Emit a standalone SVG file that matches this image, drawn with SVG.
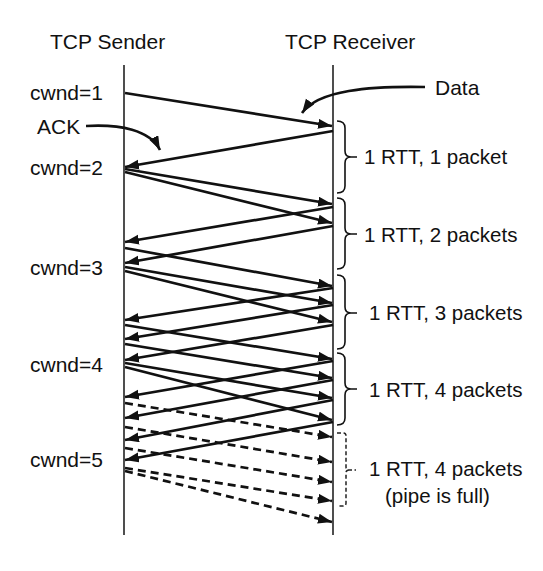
<svg xmlns="http://www.w3.org/2000/svg" width="543" height="571" viewBox="0 0 543 571">
<style>
text{font-family:"Liberation Sans",Arial,sans-serif;font-size:20.5px;fill:#111}
.lbl{font-size:21px}
.life{stroke:#222;stroke-width:1.6;fill:none}
.a{stroke:#111;stroke-width:2.7;fill:none;marker-end:url(#ah)}
.d{stroke:#111;stroke-width:2.7;fill:none;stroke-dasharray:8 5;marker-end:url(#ah)}
.br{stroke:#111;stroke-width:1.6;fill:none}
.brd{stroke:#222;stroke-width:1.5;fill:none;stroke-dasharray:4 2.5}
</style>
<defs>
<marker id="ah" markerUnits="userSpaceOnUse" markerWidth="15" markerHeight="11" refX="14" refY="5" orient="auto">
<path d="M0,0 L14,5 L0,10 z" fill="#111"/>
</marker>
</defs>
<rect width="543" height="571" fill="#fff"/>
<g id="sender">
<line class="life" x1="124" y1="65" x2="124" y2="535"/>
<text class="lbl" x="50" y="49">TCP Sender</text>
</g>
<g id="receiver">
<line class="life" x1="333" y1="65" x2="333" y2="535"/>
<text class="lbl" x="285" y="49">TCP Receiver</text>
</g>
<g id="labels">
<text class="lbl" x="30" y="100">cwnd=1</text>
<text class="lbl" x="37" y="134">ACK</text>
<text class="lbl" x="30" y="175">cwnd=2</text>
<text class="lbl" x="30" y="275">cwnd=3</text>
<text class="lbl" x="30" y="372">cwnd=4</text>
<text class="lbl" x="30" y="467">cwnd=5</text>
<text class="lbl" x="435" y="95">Data</text>
</g>
<g id="connectors">
<path class="a" d="M425,87 C370,86 318,90 302,113"/>
<path class="a" d="M86,126 C120,124 150,130 160,150"/>
<!-- data -->
<line class="a" x1="125" y1="93" x2="332" y2="126"/>
<line class="a" x1="125" y1="169" x2="332" y2="204"/>
<line class="a" x1="125" y1="172" x2="332" y2="223"/>
<line class="a" x1="125" y1="248" x2="332" y2="286"/>
<line class="a" x1="125" y1="267" x2="332" y2="303"/>
<line class="a" x1="125" y1="271" x2="332" y2="322"/>
<line class="a" x1="125" y1="325" x2="332" y2="359"/>
<line class="a" x1="125" y1="344" x2="332" y2="378"/>
<line class="a" x1="125" y1="363" x2="332" y2="398"/>
<line class="a" x1="125" y1="367" x2="332" y2="420"/>
<!-- acks -->
<line class="a" x1="333" y1="131" x2="125" y2="167"/>
<line class="a" x1="333" y1="207" x2="125" y2="242"/>
<line class="a" x1="333" y1="226" x2="125" y2="263"/>
<line class="a" x1="333" y1="288" x2="125" y2="320"/>
<line class="a" x1="333" y1="305" x2="125" y2="339"/>
<line class="a" x1="333" y1="325" x2="125" y2="360"/>
<line class="a" x1="333" y1="361" x2="125" y2="397"/>
<line class="a" x1="333" y1="380" x2="125" y2="418"/>
<line class="a" x1="333" y1="400" x2="125" y2="440"/>
<line class="a" x1="333" y1="422" x2="125" y2="460"/>
<!-- dashed -->
<line class="d" x1="125" y1="403" x2="332" y2="437"/>
<line class="d" x1="125" y1="427" x2="332" y2="462"/>
<line class="d" x1="125" y1="448" x2="332" y2="482"/>
<line class="d" x1="125" y1="468" x2="332" y2="501"/>
<line class="d" x1="125" y1="471" x2="332" y2="522"/>
</g>
<g id="rtt1">
<path class="br" d="M337,121 Q345,121 345,128 L345,151 Q345,157 351,157 L357,157 M351,157 Q345,157 345,163 L345,186 Q345,193 337,193"/>
<text x="364" y="164">1 RTT, 1 packet</text>
</g>
<g id="rtt2">
<path class="br" d="M337,198 Q345,198 345,205 L345,228 Q345,234 351,234 L357,234 M351,234 Q345,234 345,240 L345,262 Q345,269 337,269"/>
<text x="364" y="242">1 RTT, 2 packets</text>
</g>
<g id="rtt3">
<path class="br" d="M337,275 Q345,275 345,282 L345,307 Q345,313 351,313 L357,313 M351,313 Q345,313 345,319 L345,342 Q345,349 337,349"/>
<text x="369" y="320">1 RTT, 3 packets</text>
</g>
<g id="rtt4">
<path class="br" d="M337,353 Q345,353 345,360 L345,383 Q345,389 351,389 L357,389 M351,389 Q345,389 345,395 L345,418 Q345,425 337,425"/>
<text x="369" y="397">1 RTT, 4 packets</text>
</g>
<g id="rtt5">
<path class="brd" d="M337,433 L343,433 Q346,433 346,436 L346,467 Q346,470 349,470 L356,470 M349,470 Q346,470 346,473 L346,503 Q346,506 343,506 L337,506"/>
<text x="369" y="476">1 RTT, 4 packets</text>
<text x="385" y="503">(pipe is full)</text>
</g>
</svg>
